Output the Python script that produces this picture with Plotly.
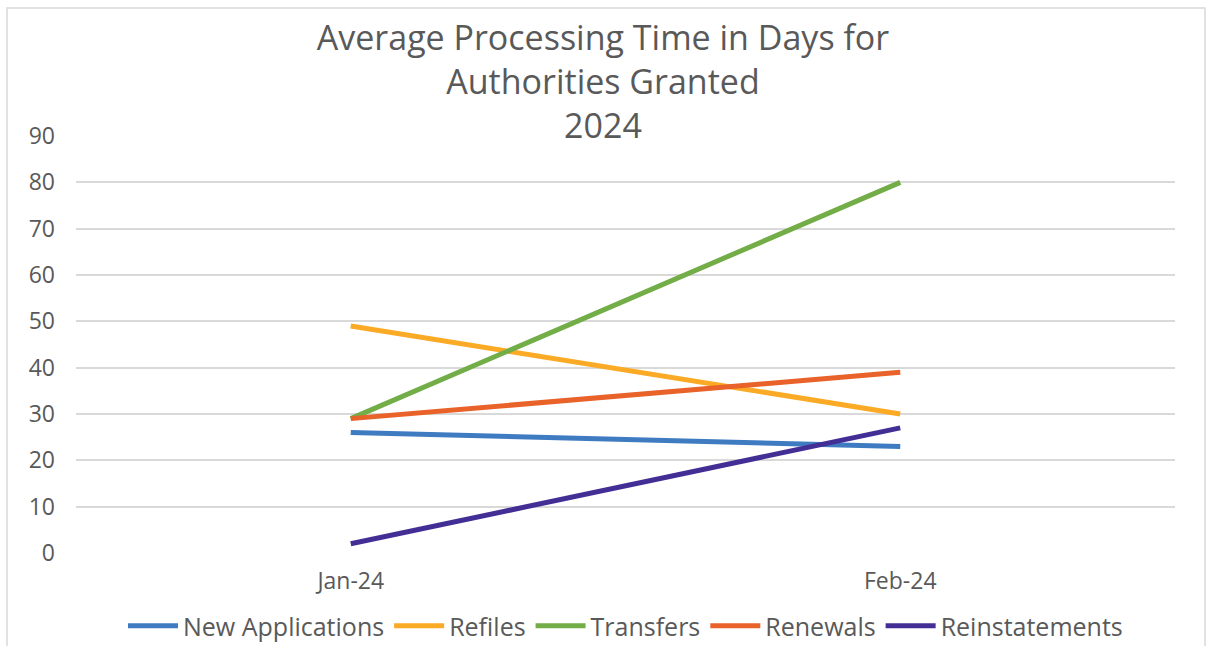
import plotly.graph_objects as go

months = ["Jan-24", "Feb-24"]
series_names = ["New Applications", "Refiles", "Transfers", "Renewals", "Reinstatements"]
new_applications = [26, 23]
refiles = [49, 30]
transfers = [29, 80]
renewals = [29, 39]
reinstatements = [2, 27]
y_ticks = [0, 10, 20, 30, 40, 50, 60, 70, 80, 90]

values = [new_applications, refiles, transfers, renewals, reinstatements]
colors = ["#3F7BC1", "#FBAA25", "#72AD47", "#E8622A", "#432E95"]

FONT = "Open Sans"
GRAY = "#595959"

fig = go.Figure()
for name, vals, col in zip(series_names, values, colors):
    fig.add_trace(go.Scatter(x=months, y=vals, name=name, mode="lines",
                             line=dict(color=col, width=5)))

W, H = 1206, 646
L, R, T, B = 76, 31, 136, 93
pw, ph = W - L - R, H - T - B

def px_x(x):
    return (x - L) / pw

def px_y(y):
    return (H - B - y) / ph

fig.add_shape(type="rect", xref="paper", yref="paper",
              x0=px_x(7), x1=px_x(1205), y0=px_y(652), y1=px_y(8),
              line=dict(color="#D9D9D9", width=1.5), fillcolor="rgba(0,0,0,0)", layer="below")

fig.update_layout(
    width=W, height=H,
    autosize=False,
    margin=dict(l=L, r=R, t=T, b=B, autoexpand=False),
    paper_bgcolor="white", plot_bgcolor="white",
    title=dict(text="Average Processing Time in Days for<br>Authorities Granted<br>2024",
               x=0.5, xref="container", xanchor="center",
               y=1 - 50 / H, yref="container", yanchor="middle",
               font=dict(family=FONT, size=34, color=GRAY)),
    font=dict(family=FONT, color=GRAY),
    xaxis=dict(type="category", range=[-0.5, 1.5], showgrid=False, zeroline=False,
               showline=False, ticks="", tickfont=dict(size=23, color=GRAY),
               ticklabelstandoff=12),
    yaxis=dict(range=[0, 90], tickvals=y_ticks, showgrid=True, gridcolor="#D9D9D9",
               gridwidth=1.5, zeroline=False, showline=False, ticks="",
               tickfont=dict(size=23, color=GRAY), ticklabelstandoff=20),
    legend=dict(orientation="h", x=0.5, xanchor="center",
                y=(H - 626) / H, yref="container", yanchor="middle",
                font=dict(size=25, color=GRAY), tracegroupgap=0, itemwidth=50),
    showlegend=True,
)

fig.write_html("out.html")
